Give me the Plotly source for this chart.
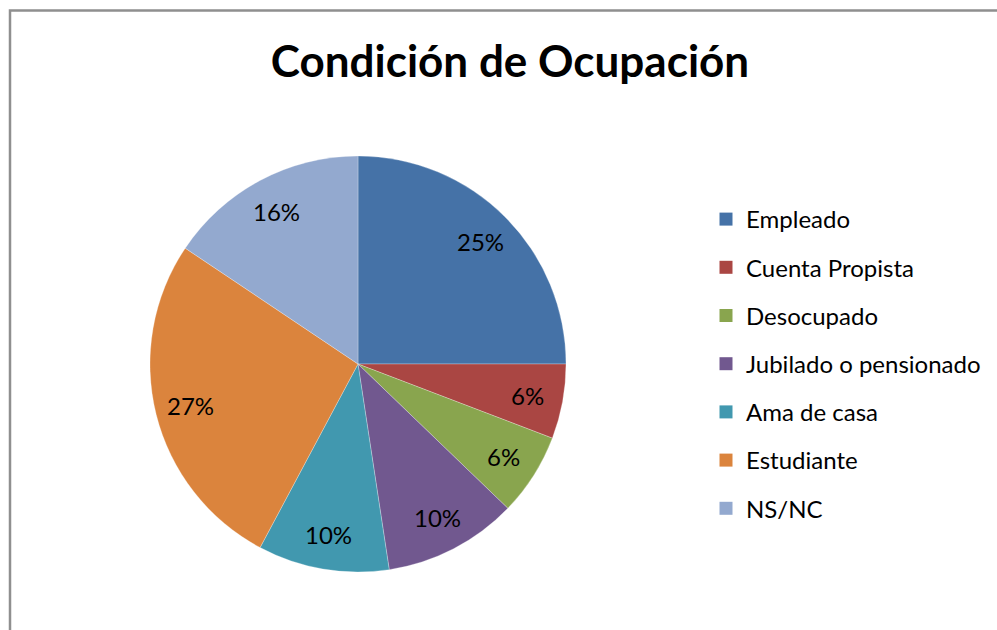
import math
import plotly.graph_objects as go

# ────── data ──────
categories = ["Empleado", "Cuenta Propista", "Desocupado", "Jubilado o pensionado",
              "Ama de casa", "Estudiante", "NS/NC"]
values = [25.0, 5.8, 6.4, 10.4, 10.2, 26.6, 15.6]
colors = ["#4572A7", "#AA4643", "#89A54E", "#71588F", "#4198AF", "#DB843D", "#93A9CF"]
title = "Condición de Ocupación"

W, H = 997, 630
FONT = "Lato"

# pie geometry (pixels)
CX, CY, R = 358, 364, 208
LABEL_R = 0.83 * R

fig = go.Figure()

fig.add_trace(go.Pie(
    labels=categories, values=values,
    marker=dict(colors=colors, line=dict(color="rgba(255,255,255,0.45)", width=0.6)),
    sort=False, direction="clockwise", rotation=0,
    textinfo="none", hoverinfo="label+percent",
    showlegend=False,
    domain=dict(x=[(CX - R) / W, (CX + R) / W],
                y=[1 - (CY + R) / H, 1 - (CY - R) / H]),
))

# percentage labels at the slice bisectors
total = sum(values)
cum = 0.0
for v in values:
    mid = (cum + v / 2) / total * 2 * math.pi
    cum += v
    px = CX + LABEL_R * math.sin(mid)
    py = CY - LABEL_R * math.cos(mid)
    fig.add_annotation(x=px / W, y=1 - py / H, xref="paper", yref="paper",
                       text=f"{round(v / total * 100)}%", showarrow=False,
                       xanchor="center", yanchor="middle",
                       font=dict(family=FONT, size=24, color="black"))

# legend entries (one dummy trace each so the spacing can be set)
for i, (cat, col) in enumerate(zip(categories, colors)):
    fig.add_trace(go.Scatter(
        x=[None], y=[None], mode="markers", name=cat,
        marker=dict(symbol="square", size=13, color=col),
        legendgroup=f"g{i}", showlegend=True,
    ))

fig.update_xaxes(visible=False)
fig.update_yaxes(visible=False)

fig.update_layout(
    width=W, height=H,
    margin=dict(l=0, r=0, t=0, b=0),
    paper_bgcolor="white", plot_bgcolor="white",
    title=dict(text=f"<b>{title}</b>", x=510 / W, xanchor="center",
               y=1 - 62 / H, yanchor="middle",
               font=dict(family=FONT, size=44, color="black")),
    legend=dict(x=706 / W, xanchor="left", y=1 - 197 / H, yanchor="top",
                font=dict(family=FONT, size=24, color="black"),
                tracegroupgap=14, traceorder="grouped",
                bgcolor="rgba(0,0,0,0)", itemclick=False),
    shapes=[dict(type="rect", xref="paper", yref="paper",
                 x0=10 / W, x1=1.02, y0=-0.02, y1=1 - 10.5 / H,
                 line=dict(color="#8f8f8f", width=2.5))],
)

# drop the page's default body margin so the figure sits at (0, 0)
fig.write_html("out.html", config=dict(displayModeBar=False),
               post_script="document.body.style.margin='0';")
